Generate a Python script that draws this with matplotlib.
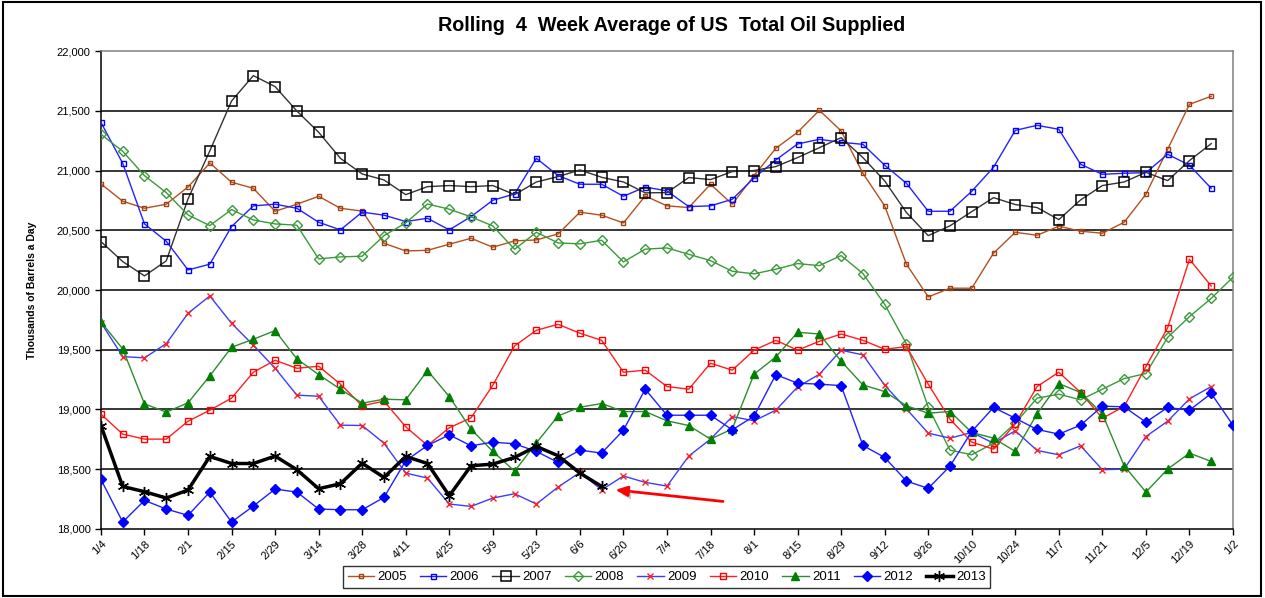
import numpy as np
import matplotlib
matplotlib.use("Agg")
import matplotlib.pyplot as plt
import matplotlib.patheffects as pe
from matplotlib.patches import Rectangle
from matplotlib.ticker import FuncFormatter

plt.rcParams['font.family'] = ['Liberation Sans', 'DejaVu Sans']

# week labels, every other week shown on the axis
tick_labels = ["1/4", "1/18", "2/1", "2/15", "2/29", "3/14", "3/28", "4/11", "4/25",
               "5/9", "5/23", "6/6", "6/20", "7/4", "7/18", "8/1", "8/15", "8/29",
               "9/12", "9/26", "10/10", "10/24", "11/7", "11/21", "12/5", "12/19", "1/2"]

y2005 = [20888, 20743, 20684, 20718, 20862, 21063, 20902, 20851, 20659, 20718, 20784, 20684,
         20660, 20391, 20327, 20332, 20383, 20433, 20358, 20411, 20419, 20469, 20651, 20626,
         20561, 20787, 20704, 20690, 20885, 20718, 20957, 21186, 21320, 21504, 21331, 20977,
         20704, 20216, 19942, 20015, 20015, 20308, 20483, 20458, 20534, 20492, 20475, 20567,
         20801, 21178, 21554, 21621]
y2006 = [21403, 21060, 20553, 20408, 20168, 20216, 20531, 20704, 20718, 20684, 20567, 20503,
         20652, 20626, 20573, 20600, 20503, 20614, 20751, 20804, 21102, 20957, 20885, 20885,
         20784, 20862, 20829, 20698, 20704, 20759, 20938, 21088, 21222, 21261, 21236, 21219,
         21044, 20893, 20659, 20659, 20826, 21027, 21336, 21378, 21345, 21052, 20968, 20977,
         20982, 21136, 21044, 20851]
y2007 = [20405, 20238, 20118, 20244, 20762, 21164, 21582, 21794, 21702, 21498, 21320, 21102,
         20971, 20921, 20798, 20865, 20874, 20865, 20874, 20798, 20904, 20949, 21005, 20943,
         20904, 20813, 20815, 20941, 20924, 20991, 21000, 21033, 21108, 21191, 21275, 21108,
         20913, 20648, 20455, 20537, 20656, 20773, 20715, 20690, 20589, 20754, 20874, 20904,
         20985, 20915, 21083, 21225]
y2008 = [21303, 21161, 20957, 20815, 20628, 20539, 20673, 20586, 20553, 20542, 20260, 20277,
         20283, 20455, 20561, 20720, 20676, 20612, 20536, 20341, 20483, 20394, 20386, 20416,
         20235, 20342, 20352, 20299, 20246, 20157, 20135, 20174, 20221, 20204, 20288, 20138,
         19880, 19549, 19019, 18660, 18621, 18718, 18886, 19095, 19128, 19081, 19170, 19259,
         19301, 19604, 19777, 19930, 20107]
y2009 = [19727, 19443, 19432, 19551, 19805, 19950, 19721, 19538, 19345, 19120, 19111, 18869,
         18866, 18718, 18468, 18426, 18209, 18189, 18259, 18295, 18209, 18351, 18473, 18328,
         18443, 18390, 18359, 18610, 18752, 18941, 18905, 18994, 19189, 19295, 19496, 19457,
         19203, 19005, 18802, 18760, 18808, 18718, 18822, 18657, 18621, 18696, 18496, 18501,
         18774, 18902, 19089, 19192]
y2010 = [18961, 18794, 18752, 18752, 18902, 18994, 19095, 19312, 19412, 19345, 19362, 19212,
         19031, 19070, 18855, 18699, 18847, 18930, 19203, 19532, 19663, 19713, 19638, 19579,
         19312, 19329, 19192, 19170, 19387, 19329, 19496, 19579, 19496, 19571, 19632, 19579,
         19504, 19526, 19212, 18919, 18727, 18668, 18880, 19192, 19312, 19142, 18927, 19025,
         19359, 19685, 20257, 20033]
y2011 = [19733, 19507, 19047, 18978, 19056, 19281, 19521, 19588, 19660, 19423, 19292, 19170,
         19053, 19086, 19081, 19326, 19108, 18835, 18649, 18484, 18720, 18947, 19019, 19050,
         18983, 18983, 18905, 18866, 18752, 18838, 19295, 19440, 19646, 19632, 19404, 19206,
         19150, 19031, 18969, 18983, 18808, 18760, 18649, 18964, 19217, 19142, 18964, 18529,
         18309, 18501, 18635, 18565]
y2012 = [18415, 18058, 18239, 18167, 18114, 18309, 18058, 18192, 18334, 18309, 18167, 18161,
         18161, 18264, 18571, 18699, 18788, 18696, 18727, 18713, 18649, 18557, 18660, 18635,
         18827, 19170, 18952, 18952, 18952, 18830, 18944, 19292, 19220, 19212, 19200, 18699,
         18599, 18401, 18340, 18526, 18816, 19017, 18927, 18833, 18794, 18869, 19028, 19022,
         18894, 19017, 18994, 19134, 18869]
y2013 = [18866, 18356, 18312, 18259, 18326, 18607, 18548, 18548, 18610, 18496, 18337, 18379,
         18550, 18432, 18607, 18548, 18278, 18529, 18543, 18599, 18691, 18613, 18468, 18356]

fig = plt.figure(figsize=(12.65, 5.98), dpi=100)
ax = fig.add_axes([0.0798, 0.1154, 0.8949, 0.7993])

styles = [
    ("2005", y2005, dict(color='#B5501E', marker='s', ms=3.3, mfc='none', mec='#A0400F', mew=1.0, lw=1)),
    ("2006", y2006, dict(color='#2222FF', marker='s', ms=3.6, mfc='none', mec='#0000FF', mew=1.0, lw=1)),
    ("2007", y2007, dict(color='#333333', marker='s', ms=6.5, mfc='none', mec='black', mew=1.1, lw=1)),
    ("2008", y2008, dict(color='#3A9A3A', marker='D', ms=5, mfc='none', mec='#3A9A3A', mew=1.0, lw=1)),
    ("2009", y2009, dict(color='#3C3CFF', marker='x', ms=3.8, mec='#FF2020', mew=1.0, lw=1)),
    ("2010", y2010, dict(color='#FF2020', marker='s', ms=3.8, mfc='none', mec='#FF0000', mew=1.0, lw=1)),
    ("2011", y2011, dict(color='#2E8B2E', marker='^', ms=5.5, mfc='#008000', mec='#008000', lw=1)),
    ("2012", y2012, dict(color='#2020FF', marker='D', ms=5.5, mfc='#0000FF', mec='#0000FF', lw=1)),
    ("2013", y2013, dict(color='black', marker=(6, 2, 0), ms=8, mec='black', mew=1.0, lw=2.5)),
]

for name, vals, kw in styles:
    ax.plot(np.arange(len(vals)), vals, label=name, zorder=3, **kw)

ax.set_xlim(0, 52)
ax.set_ylim(18000, 22000)
ax.set_yticks(np.arange(18000, 22001, 500))
ax.yaxis.set_major_formatter(FuncFormatter(lambda v, p: f"{int(v):,}"))
ax.set_xticks(np.arange(0, 53, 2))
ax.set_xticklabels(tick_labels, rotation=45, ha='right', rotation_mode='anchor')
ax.tick_params(axis='both', direction='out', length=4, width=1, labelsize=8, color='black')
ax.tick_params(axis='x', pad=3)

for v in np.arange(18500, 22000, 500):
    ax.axhline(v, color='black', lw=1.1, zorder=1)

ax.spines['left'].set_color('black')
ax.spines['bottom'].set_color('black')
ax.spines['top'].set_color('#808080')
ax.spines['right'].set_color('#808080')
for s in ax.spines.values():
    s.set_linewidth(1.1)

ax.set_ylabel("Thousands of Barrels a Day", fontsize=7.5, fontweight='bold', labelpad=14)

fig.text(0.531, 0.958, "Rolling  4  Week Average of US  Total Oil Supplied",
         ha='center', va='center', fontsize=14.2, fontweight='bold')

# arrow pointing at the latest 2013 value
ax.annotate("", xy=(23.5, 18330), xytext=(28.7, 18228),
            arrowprops=dict(arrowstyle='-|>,head_length=0.7,head_width=0.3', color='#FF0000', lw=2.0,
                            path_effects=[pe.withSimplePatchShadow(offset=(2, -3), shadow_rgbFace='#999999', alpha=0.5)]),
            zorder=5)

leg = fig.legend(loc='center', bbox_to_anchor=(0.527, 0.035), ncol=9, fontsize=9.5,
                 frameon=True, fancybox=False, edgecolor='black', handlelength=2.0,
                 handletextpad=0.25, columnspacing=1.0, borderpad=0.35)
leg.get_frame().set_linewidth(1.0)

fig.patches.append(Rectangle((0.002, 0.003), 0.995, 0.993, transform=fig.transFigure,
                             fill=False, edgecolor='black', lw=1.5))

fig.savefig("out.png", dpi=100)
